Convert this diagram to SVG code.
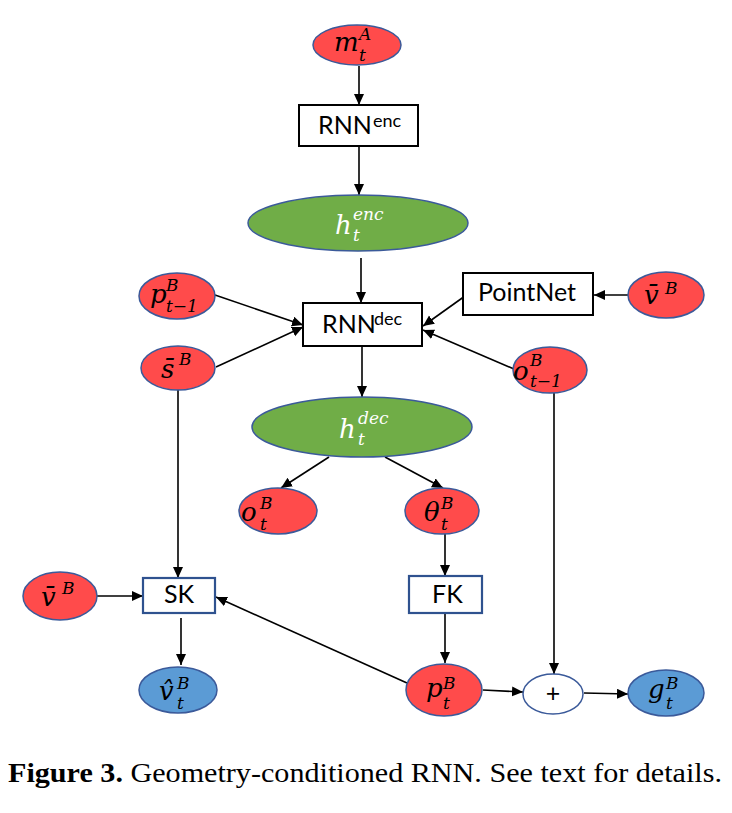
<svg xmlns="http://www.w3.org/2000/svg" width="732" height="813" viewBox="0 0 732 813">
<style>
.red{fill:#FF4B4B;stroke:#3B5A9A;stroke-width:1.5}
.green{fill:#70AD47;stroke:#3B5A9A;stroke-width:1.5}
.blue{fill:#5B9BD5;stroke:#3B5A9A;stroke-width:1.5}
.wht{fill:#FFFFFF;stroke:#3B5A9A;stroke-width:1.5}
.box{fill:#FFFFFF;stroke:#000000;stroke-width:2}
.bbox{fill:#FFFFFF;stroke:#2F528F;stroke-width:2.2}
.m{font-family:"DejaVu Serif","Liberation Serif",serif;font-style:italic;font-size:26px;fill:#000}
.s{font-family:"DejaVu Serif","Liberation Serif",serif;font-style:italic;font-size:17px;fill:#000}
.w{fill:#FFFFFF}
.t{font-family:Lato,"Liberation Sans",sans-serif;font-size:25px;fill:#000}
.ts{font-family:Lato,"Liberation Sans",sans-serif;font-size:18px;fill:#000}
.c line{stroke:#000;stroke-width:1.6;marker-end:url(#ah)}
</style>
<defs>
<marker id="ah" markerUnits="userSpaceOnUse" markerWidth="12" markerHeight="12" refX="11" refY="5" orient="auto">
<path d="M0,0 L11,5 L0,10 Z" fill="#000"/>
</marker>
</defs>

<g class="c" id="connectors">
<line x1="359" y1="66" x2="359" y2="105"/>
<line x1="359" y1="147" x2="359" y2="195"/>
<line x1="361" y1="258" x2="361" y2="303"/>
<line x1="215" y1="295" x2="303" y2="325"/>
<line x1="216" y1="367" x2="303" y2="327"/>
<line x1="465" y1="296" x2="423" y2="326"/>
<line x1="514" y1="369" x2="423" y2="330"/>
<line x1="628" y1="295" x2="594" y2="295"/>
<line x1="362" y1="347" x2="362" y2="397"/>
<line x1="329" y1="457" x2="281" y2="488"/>
<line x1="385" y1="457" x2="443" y2="488"/>
<line x1="445" y1="534" x2="445" y2="576"/>
<line x1="445" y1="614" x2="445" y2="663"/>
<line x1="178" y1="390" x2="178" y2="578"/>
<line x1="97" y1="596" x2="143" y2="596"/>
<line x1="181" y1="618" x2="181" y2="665"/>
<line x1="407" y1="683" x2="216" y2="597"/>
<line x1="554" y1="393" x2="554" y2="674"/>
<line x1="483" y1="690" x2="523" y2="692"/>
<line x1="584" y1="693" x2="628" y2="694"/>
</g>

<g id="m_tA">
<ellipse class="red" cx="357" cy="45" rx="44" ry="20"/>
<text class="m" x="334" y="51">m</text>
<text class="s" x="359" y="40">A</text>
<text class="s" x="359" y="61">t</text>
</g>

<g id="rnn_enc">
<rect class="box" x="299" y="105" width="119" height="41"/>
<text class="t" x="318" y="134">RNN</text>
<text class="ts" x="373" y="127">enc</text>
</g>

<g id="h_enc">
<ellipse class="green" cx="358" cy="223" rx="110" ry="28"/>
<text class="m w" x="335" y="234">h</text>
<text class="s w" x="353" y="220">enc</text>
<text class="s w" x="353" y="241">t</text>
</g>

<g id="rnn_dec">
<rect class="box" x="303" y="303" width="119" height="43"/>
<text class="t" x="322" y="333">RNN</text>
<text class="ts" x="374" y="325">dec</text>
</g>

<g id="p_tm1">
<ellipse class="red" cx="177" cy="296" rx="38" ry="23"/>
<text class="m" x="150" y="303">p</text>
<text class="s" x="166" y="291">B</text>
<text class="s" x="166" y="312">t−1</text>
</g>

<g id="s_bar">
<ellipse class="red" cx="178" cy="368" rx="37" ry="22"/>
<text class="m" x="161" y="378">s̄</text>
<text class="s" x="179" y="365">B</text>
</g>

<g id="pointnet">
<rect class="box" x="463" y="273" width="130" height="42"/>
<text class="t" x="478" y="301">PointNet</text>
</g>

<g id="v_bar_r">
<ellipse class="red" cx="666" cy="295" rx="38" ry="23"/>
<text class="m" x="644" y="304">v̄</text>
<text class="s" x="665" y="294">B</text>
</g>

<g id="o_tm1">
<ellipse class="red" cx="550" cy="370" rx="37" ry="23"/>
<text class="m" x="513" y="380">o</text>
<text class="s" x="530" y="366">B</text>
<text class="s" x="530" y="387">t−1</text>
</g>

<g id="h_dec">
<ellipse class="green" cx="362" cy="427" rx="110" ry="30"/>
<text class="m w" x="339" y="438">h</text>
<text class="s w" x="358" y="424">dec</text>
<text class="s w" x="358" y="445">t</text>
</g>

<g id="o_t">
<ellipse class="red" cx="278" cy="511" rx="39" ry="23"/>
<text class="m" x="241" y="521">o</text>
<text class="s" x="260" y="509">B</text>
<text class="s" x="260" y="530">t</text>
</g>

<g id="theta_t">
<ellipse class="red" cx="442" cy="511" rx="37" ry="23"/>
<text class="m" x="424" y="521">θ</text>
<text class="s" x="441" y="509">B</text>
<text class="s" x="441" y="530">t</text>
</g>

<g id="fk">
<rect class="bbox" x="409" y="576" width="73" height="37"/>
<text class="t" x="432" y="603">FK</text>
</g>

<g id="sk">
<rect class="bbox" x="143" y="578" width="72" height="35"/>
<text class="t" x="164" y="603">SK</text>
</g>

<g id="v_bar_l">
<ellipse class="red" cx="60" cy="596" rx="37" ry="24"/>
<text class="m" x="41" y="606">v̄</text>
<text class="s" x="62" y="594">B</text>
</g>

<g id="v_hat">
<ellipse class="blue" cx="178" cy="690" rx="39" ry="23"/>
<text class="m" x="159" y="700">v̂</text>
<text class="s" x="177" y="689">B</text>
<text class="s" x="177" y="709">t</text>
</g>

<g id="p_t">
<ellipse class="red" cx="444" cy="690" rx="38" ry="26"/>
<text class="m" x="426" y="697">p</text>
<text class="s" x="443" y="689">B</text>
<text class="s" x="443" y="709">t</text>
</g>

<g id="plus">
<ellipse class="wht" cx="553" cy="694" rx="30" ry="20"/>
<text class="t" x="553" y="702" text-anchor="middle">+</text>
</g>

<g id="g_t">
<ellipse class="blue" cx="666" cy="693" rx="38" ry="23"/>
<text class="m" x="648" y="698">g</text>
<text class="s" x="666" y="689">B</text>
<text class="s" x="666" y="709">t</text>
</g>

<text x="8" y="782" font-family="Liberation Serif,serif" font-size="28" fill="#000" textLength="714" lengthAdjust="spacingAndGlyphs"><tspan font-weight="bold">Figure 3.</tspan> Geometry-conditioned RNN. See text for details.</text>
</svg>
